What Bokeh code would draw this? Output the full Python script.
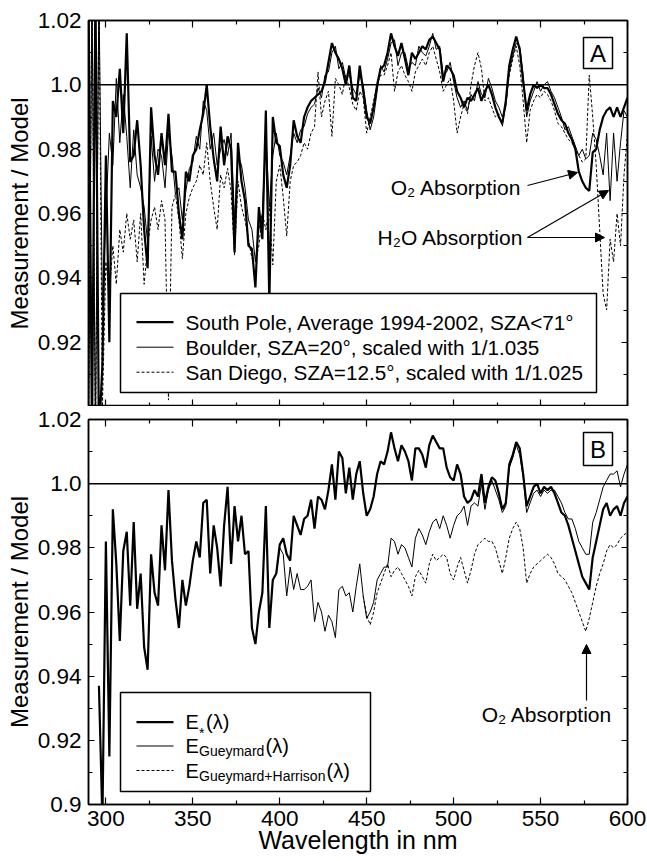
from bokeh.plotting import figure
from bokeh.models import (Span, Label, BoxAnnotation, Arrow, NormalHead, LinearAxis,
                          FixedTicker, CustomJSTickFormatter, Range1d)
from bokeh.layouts import column
from bokeh.embed import file_html
from bokeh.resources import INLINE

FONT = "Liberation Sans"

# ---------------- data ----------------
x_major = [300, 350, 400, 450, 500, 550, 600]
x_minor = [325, 375, 425, 475, 525, 575]
y_major = [0.90, 0.92, 0.94, 0.96, 0.98, 1.00, 1.02]
y_major_labels = ["0.9", "0.92", "0.94", "0.96", "0.98", "1.0", "1.02"]
y_minor = [0.91, 0.93, 0.95, 0.97, 0.99, 1.01]

# Panel A (2 nm grid 290..600)
wl_top = list(range(290, 601, 2))
south_pole = [
    1.03, 0.89, 1.03, 0.89, 0.913, 0.978, 0.920, 0.995, 0.990, 1.005,
    0.985, 1.016, 0.976, 0.978, 0.989, 0.975, 0.955, 0.943, 0.993, 0.978,
    0.972, 0.985, 0.975, 0.991, 0.973, 0.973, 0.960, 0.952, 0.973, 0.970,
    0.978, 0.980, 0.986, 0.991, 1.000, 0.987, 0.977, 0.970, 0.987, 0.975,
    0.984, 0.980, 0.948, 0.982, 0.970, 0.964, 0.950, 0.949, 0.937, 0.962,
    0.952, 0.992, 0.932, 0.990, 0.982, 0.981, 0.972, 0.968, 0.975, 0.989,
    0.984, 0.982, 0.990, 0.993, 0.995, 0.996, 0.997, 0.998, 1.001, 1.007,
    1.013, 1.010, 1.008, 1.005, 1.000, 1.006, 0.996, 0.995, 1.006, 0.998,
    0.990, 0.988, 0.993, 1.000, 1.005, 1.006, 1.010, 1.016, 1.012, 1.009,
    1.013, 1.008, 1.003, 1.010, 1.008, 1.010, 1.012, 1.011, 1.014, 1.015,
    1.013, 1.011, 1.001, 1.006, 1.005, 1.003, 0.998, 0.996, 0.993, 0.996,
    0.995, 0.997, 0.999, 0.995, 0.998, 1.000, 0.997, 0.993, 0.990, 0.988,
    0.995, 1.006, 1.011, 1.015, 1.011, 1.001, 0.992, 0.997, 1.000, 0.999,
    1.000, 0.999, 0.999, 0.997, 0.994, 0.991, 0.989, 0.988, 0.985, 0.983,
    0.980, 0.973, 0.970, 0.968, 0.967, 0.979, 0.980, 0.986, 0.990, 0.992,
    0.993, 0.990, 0.993, 0.990, 0.993, 0.996,
]
boulder = [
    0.89, 1.03, 0.89, 1.03, 0.930, 0.960, 0.985, 0.975, 1.002, 0.982,
    0.997, 0.984, 0.968, 0.986, 0.972, 0.968, 0.962, 0.951, 0.984, 0.970,
    0.980, 0.978, 0.968, 0.985, 0.978, 0.966, 0.968, 0.958, 0.967, 0.974,
    0.976, 0.984, 0.980, 0.995, 0.992, 0.980, 0.985, 0.975, 0.980, 0.983,
    0.978, 0.985, 0.958, 0.978, 0.975, 0.968, 0.958, 0.955, 0.945, 0.955,
    0.960, 0.985, 0.962, 0.978, 0.985, 0.978, 0.976, 0.972, 0.978, 0.985,
    0.982, 0.986, 0.987, 0.991, 0.993, 0.994, 0.999, 0.996, 1.003, 1.004,
    1.010, 1.012, 1.005, 1.007, 1.002, 1.003, 0.999, 0.997, 1.003, 1.000,
    0.992, 0.986, 0.990, 0.998, 1.006, 1.004, 1.008, 1.013, 1.014, 1.006,
    1.010, 1.010, 1.005, 1.007, 1.006, 1.012, 1.010, 1.009, 1.012, 1.016,
    1.011, 1.012, 1.003, 1.004, 1.007, 1.001, 0.996, 0.993, 0.995, 0.992,
    0.997, 0.995, 1.001, 0.997, 0.996, 1.002, 0.999, 0.995, 0.993, 0.990,
    0.993, 1.004, 1.009, 1.013, 1.012, 1.003, 0.990, 0.995, 0.998, 1.001,
    0.998, 1.000, 1.001, 0.998, 0.996, 0.993, 0.990, 0.986, 0.987, 0.984,
    0.981, 0.978, 0.980, 0.977, 0.978, 0.985, 0.983, 0.978, 0.972, 0.985,
    0.964, 0.985, 0.970, 0.982, 0.992, 0.990,
]
san_diego = [
    0.89, 1.03, 0.89, 1.03, 0.900, 0.945, 0.935, 0.950, 0.938, 0.955,
    0.948, 0.960, 0.952, 0.958, 0.945, 0.960, 0.938, 0.950, 0.958, 0.962,
    0.955, 0.964, 0.958, 0.902, 0.962, 0.966, 0.958, 0.946, 0.960, 0.965,
    0.968, 0.970, 0.975, 0.972, 0.982, 0.970, 0.962, 0.955, 0.972, 0.968,
    0.974, 0.967, 0.947, 0.970, 0.962, 0.958, 0.952, 0.946, 0.945, 0.950,
    0.960, 0.955, 0.962, 0.944, 0.970, 0.975, 0.965, 0.953, 0.970, 0.975,
    0.976, 0.978, 0.982, 0.980, 0.985, 0.987, 1.004, 0.990, 0.995, 0.998,
    0.984, 1.002, 1.000, 0.997, 1.003, 0.999, 0.994, 0.992, 0.998, 0.996,
    0.985, 0.990, 0.995, 1.000, 1.003, 1.003, 1.006, 1.010, 0.998, 1.004,
    1.006, 1.003, 1.001, 0.998, 1.004, 1.006, 1.008, 1.006, 1.010, 1.012,
    1.008, 1.004, 0.998, 1.000, 1.002, 0.995, 0.985, 0.990, 0.994, 0.991,
    1.000, 1.006, 1.010, 1.005, 0.995, 0.996, 0.993, 0.990, 0.991, 0.987,
    0.994, 1.003, 1.008, 1.012, 1.006, 0.995, 0.982, 0.992, 0.995, 0.997,
    0.996, 0.998, 0.997, 0.995, 0.992, 0.988, 0.987, 0.985, 0.983, 0.982,
    0.980, 0.978, 0.976, 0.977, 1.003, 0.990, 0.975, 0.955, 0.935, 0.930,
    0.952, 0.945, 0.960, 0.950, 0.972, 0.985,
]

# Panel B
wl_estar = list(range(296, 601, 2))
e_star = [
    0.937,
    0.895, 0.982, 0.915, 0.992, 0.975, 0.951, 0.979, 0.985, 0.962, 0.988,
    0.961, 0.972, 0.949, 0.942, 0.978, 0.966, 0.962, 0.987, 0.973, 0.998,
    0.976, 0.964, 0.955, 0.970, 0.962, 0.968, 0.976, 0.982, 0.977, 0.994,
    0.995, 0.972, 0.987, 0.980, 0.968, 0.987, 0.999, 0.975, 0.993, 0.982,
    0.990, 0.978, 0.979, 0.955, 0.950, 0.960, 0.966, 0.993, 0.955, 0.970,
    0.972, 0.981, 0.983, 0.978, 0.976, 0.990, 0.987, 0.984, 0.989, 0.990,
    0.995, 0.986, 0.996, 0.995, 0.992, 0.998, 1.006, 0.995, 1.010, 1.008,
    0.997, 1.005, 0.995, 1.003, 1.007, 0.997, 0.990, 0.992, 0.996, 1.003,
    1.007, 1.006, 1.010, 1.016, 1.011, 1.007, 1.012, 1.010, 1.007, 1.001,
    1.011, 1.011, 1.009, 1.005, 1.012, 1.015, 1.013, 1.011, 1.011, 1.005,
    1.002, 1.001, 1.006, 1.003, 0.996, 0.994, 0.995, 0.998, 0.996, 1.003,
    0.994, 0.999, 1.002, 1.001, 0.997, 0.992, 0.994, 1.006, 1.009, 1.013,
    1.011, 1.003, 0.993, 0.996, 0.999, 1.000, 0.997, 0.999, 0.998, 0.999,
    0.997, 0.994, 0.991, 0.990, 0.987, 0.983, 0.979, 0.975, 0.971, 0.969,
    0.967, 0.977, 0.982, 0.987, 0.992, 0.994, 0.990, 0.992, 0.993, 0.990,
    0.994, 0.996,
]
wl_gueymard = list(range(398, 601, 2))
e_gueymard = [
    0.972, 0.980, 0.978, 0.965, 0.974, 0.967, 0.972, 0.967, 0.967, 0.968,
    0.970, 0.957, 0.963, 0.960, 0.954, 0.959, 0.957, 0.952, 0.967, 0.968,
    0.965, 0.966, 0.960, 0.968, 0.975, 0.965, 0.958, 0.960, 0.963, 0.970,
    0.972, 0.974, 0.974, 0.983, 0.982, 0.978, 0.981, 0.980, 0.977, 0.974,
    0.983, 0.986, 0.984, 0.981, 0.985, 0.988, 0.989, 0.986, 0.990, 0.987,
    0.983, 0.987, 0.990, 0.991, 0.993, 0.987, 0.993, 0.994, 0.993, 1.000,
    0.992, 0.998, 1.001, 0.998, 0.995, 0.991, 0.993, 1.005, 1.008, 1.012,
    1.009, 1.002, 0.991, 0.994, 0.997, 0.998, 0.996, 0.998, 0.997, 0.998,
    0.998, 0.996, 0.994, 0.991, 0.989, 0.989, 0.986, 0.982, 0.980, 0.978,
    0.978, 0.988, 0.991, 0.995, 0.999, 1.001, 1.003, 1.003, 1.004, 0.999,
    1.003, 1.006,
]
wl_harrison = list(range(448, 601, 2))
e_gueymard_harrison = [
    0.965, 0.959, 0.956, 0.960, 0.966, 0.969, 0.972, 0.975, 0.971, 0.973,
    0.974, 0.972, 0.970, 0.968, 0.965, 0.971, 0.973, 0.971, 0.969, 0.975,
    0.978, 0.976, 0.977, 0.978, 0.977, 0.972, 0.970, 0.974, 0.977, 0.973,
    0.969, 0.973, 0.978, 0.981, 0.982, 0.983, 0.982, 0.982, 0.980, 0.976,
    0.972, 0.977, 0.983, 0.986, 0.988, 0.986, 0.980, 0.969, 0.972, 0.974,
    0.975, 0.976, 0.977, 0.978, 0.977, 0.975, 0.972, 0.971, 0.970, 0.968,
    0.966, 0.963, 0.960, 0.957, 0.954, 0.958, 0.963, 0.968, 0.972, 0.975,
    0.979, 0.981, 0.980, 0.981, 0.983, 0.984, 0.985,
]

legend_a = ["South Pole, Average 1994-2002, SZA<71°",
            "Boulder, SZA=20°, scaled with 1/1.035",
            "San Diego, SZA=12.5°, scaled with 1/1.025"]

# ---------------- layout helpers (pixel -> data for annotations) ----------------
FL, FR = 88, 627
def px_x(x):
    return 290 + (x - FL) * 310.0 / (FR - FL)
def px_y_top(y):
    return 1.02 - (y - 20) * 0.12 / 386.0
def px_y_bot(y):
    return 1.02 - (y - 419) * 0.12 / 385.0

TICK_FS = "22.5px"
YLAB_FS = "24px"
XLAB_FS = "25px"
TEXT_FS = "20.7px"
ANN_FS = "21px"

empty_fmt = CustomJSTickFormatter(code="return '';")


def style_axis(ax, ticker, fmt, labels, major_in, minor_in):
    ax.ticker = ticker
    ax.formatter = fmt
    ax.axis_line_color = "black"
    ax.axis_line_width = 1.5
    ax.major_tick_in = major_in
    ax.major_tick_out = 0
    ax.minor_tick_in = minor_in
    ax.minor_tick_out = 0
    ax.major_tick_line_color = "black"
    ax.minor_tick_line_color = "black"
    ax.major_tick_line_width = 1.2
    ax.minor_tick_line_width = 1.2
    ax.major_label_text_font = FONT
    ax.major_label_text_color = "black"
    ax.axis_label_text_font = FONT
    ax.axis_label_text_font_style = "normal"
    ax.axis_label_text_color = "black"
    if labels:
        ax.major_label_text_font_size = TICK_FS
    else:
        ax.major_label_text_font_size = "0px"
        ax.major_label_standoff = 0


def make_panel(height, b_top, b_bottom, bottom_labels, y_ticks, y_labels):
    p = figure(width=647, height=height, x_range=Range1d(290, 600), y_range=Range1d(0.90, 1.02),
               output_backend="svg", toolbar_location=None, x_axis_type=None, y_axis_type=None,
               min_border_left=FL, min_border_right=647 - FR, min_border_top=b_top,
               min_border_bottom=b_bottom)
    p.outline_line_color = "black"
    p.outline_line_width = 1.5
    p.background_fill_color = "white"
    p.border_fill_color = "white"

    xt = FixedTicker(ticks=x_major, minor_ticks=x_minor)
    yt = FixedTicker(ticks=y_ticks, minor_ticks=y_minor)
    yfmt = CustomJSTickFormatter(args=dict(vals=y_ticks, labs=y_labels), code="""
        for (let i = 0; i < vals.length; i++) {
            if (Math.abs(tick - vals[i]) < 1e-6) { return labs[i]; }
        }
        return '';
    """)
    xfmt = CustomJSTickFormatter(code="return tick.toFixed(0);")

    bottom = LinearAxis()
    style_axis(bottom, xt, xfmt if bottom_labels else empty_fmt, bottom_labels, 7, 4)
    if bottom_labels:
        bottom.axis_label = "Wavelength in nm"
        bottom.axis_label_text_font_size = XLAB_FS
        bottom.major_label_standoff = 6
        bottom.axis_label_standoff = -3
    p.add_layout(bottom, "below")

    top = LinearAxis()
    style_axis(top, xt, empty_fmt, False, 7, 4)
    p.add_layout(top, "above")

    left = LinearAxis()
    style_axis(left, yt, yfmt, True, 6, 4)
    left.axis_label = "Measurement / Model"
    left.axis_label_text_font_size = YLAB_FS
    left.major_label_standoff = 7
    left.axis_label_standoff = 2
    p.add_layout(left, "left")

    right = LinearAxis()
    style_axis(right, yt, empty_fmt, False, 6, 4)
    p.add_layout(right, "right")

    p.add_layout(Span(location=1.0, dimension="width", line_color="black", line_width=1.5))
    return p


def add_text(p, x, y, text, size=TEXT_FS, align="left", baseline="middle", xoff=0, yoff=0):
    p.add_layout(Label(x=x, y=y, text=text, text_font=FONT, text_font_size=size,
                       text_color="black", text_align=align, text_baseline=baseline,
                       x_offset=xoff, y_offset=yoff))


def add_box(p, x0, x1, y0, y1):
    p.add_layout(BoxAnnotation(left=x0, right=x1, bottom=y0, top=y1, fill_color="white",
                               fill_alpha=1.0, line_color="black", line_alpha=1.0,
                               line_width=1.5))


def add_arrow(p, x0, y0, x1, y1):
    p.add_layout(Arrow(end=NormalHead(size=9, fill_color="black", line_color="black"),
                       x_start=x0, y_start=y0, x_end=x1, y_end=y1,
                       line_color="black", line_width=1.2))


# ---------------- Panel A ----------------
p1 = make_panel(406, 20, 0, False, y_major[1:], y_major_labels[1:])
p1.line(wl_top, san_diego, line_color="black", line_width=1.0, line_dash="3 2")
p1.line(wl_top, boulder, line_color="black", line_width=1.0)
p1.line(wl_top, south_pole, line_color="black", line_width=2.2)

add_box(p1, px_x(120), px_x(596), px_y_top(392), px_y_top(293))
rows_a = [321.7, 346.7, 371.7]
styles = [dict(line_width=2.2), dict(line_width=1.0), dict(line_width=1.0, line_dash="3 2")]
for ry, st, txt in zip(rows_a, styles, legend_a):
    r = p1.line([px_x(136), px_x(173)], [px_y_top(ry)] * 2, line_color="black", **st)
    r.level = "overlay"
    add_text(p1, px_x(185), px_y_top(ry), txt)

add_box(p1, px_x(583), px_x(612), px_y_top(68), px_y_top(37))
add_text(p1, px_x(597.5), px_y_top(53), "A", size="24px", align="center")

add_text(p1, px_x(521), px_y_top(187), "O₂ Absorption", size=ANN_FS, align="right")
add_text(p1, px_x(523), px_y_top(237), "H₂O Absorption", size=ANN_FS, align="right")
add_arrow(p1, px_x(527), px_y_top(185), px_x(577), px_y_top(172))
add_arrow(p1, px_x(527), px_y_top(237), px_x(608), px_y_top(190))
add_arrow(p1, px_x(527), px_y_top(237), px_x(604), px_y_top(237))

# ---------------- Panel B ----------------
p2 = make_panel(455, 13, 57, True, y_major, y_major_labels)
p2.line(wl_harrison, e_gueymard_harrison, line_color="black", line_width=1.0, line_dash="3 2")
p2.line(wl_gueymard, e_gueymard, line_color="black", line_width=1.0)
p2.line(wl_estar, e_star, line_color="black", line_width=2.2)

add_box(p2, px_x(120), px_x(370), px_y_bot(791), px_y_bot(692))
rows_b = [721.7, 745.5, 770.0]
subs = ["*", "Gueymard", "Gueymard+Harrison"]
sub_w = [6.0, 65.5, 126.5]
sub_dy = [-11, -5, -5]
E_W = 13.5
for ry, st, sb, w, dy in zip(rows_b, styles, subs, sub_w, sub_dy):
    r = p2.line([px_x(136), px_x(173)], [px_y_bot(ry)] * 2, line_color="black", **st)
    r.level = "overlay"
    add_text(p2, px_x(185), px_y_bot(ry), "E", size="20px")
    add_text(p2, px_x(185), px_y_bot(ry), sb, size="14px", xoff=E_W, yoff=dy)
    add_text(p2, px_x(185), px_y_bot(ry), "(λ)", size="20px", xoff=E_W + w + 1)

add_box(p2, px_x(583), px_x(612), px_y_bot(465), px_y_bot(432))
add_text(p2, px_x(597.5), px_y_bot(449), "B", size="24px", align="center")

add_text(p2, px_x(546.5), px_y_bot(714), "O₂ Absorption", size=ANN_FS, align="center")
add_arrow(p2, px_x(586), px_y_bot(700), px_x(586), px_y_bot(644))

layout = column(p1, p2, spacing=0)
open("out.html", "w").write(file_html(layout, INLINE))
